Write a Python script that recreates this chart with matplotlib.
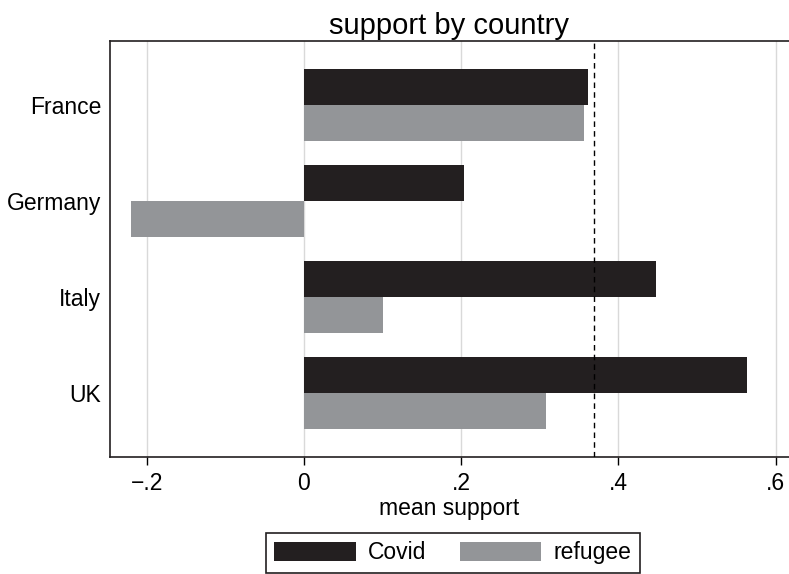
import matplotlib
matplotlib.use('Agg')
import matplotlib.pyplot as plt
import numpy as np

plt.rcParams['font.family'] = ['Liberation Sans', 'DejaVu Sans']

countries = ["France", "Germany", "Italy", "UK"]
covid = [0.361, 0.204, 0.448, 0.564]
refugee = [0.356, -0.220, 0.101, 0.308]
overall_mean = 0.369
xticks = [-0.2, 0, 0.2, 0.4, 0.6]
xticklabels = ["\u2212.2", "0", ".2", ".4", ".6"]

fig = plt.figure(figsize=(7.89, 5.74), dpi=100)
ax = fig.add_axes([0.139, 0.204, 0.861, 0.7246])

y = np.arange(len(countries))
h = 0.375
ax.barh(y - h/2, covid, height=h, color="#231f20", label="Covid", zorder=3)
ax.barh(y + h/2, refugee, height=h, color="#939598", label="refugee", zorder=3)
ax.axvline(overall_mean, color="black", linestyle=(0, (4, 3)), linewidth=1, zorder=4)

ax.set_xlim(-0.247, 0.617)
ax.set_ylim(len(countries) - 1 + 0.667, -0.667)
ax.set_xticks(xticks)
ax.set_xticklabels(xticklabels)
ax.set_yticks(y)
ax.set_yticklabels(countries)
ax.grid(axis="x", color="#d9d9d9", linewidth=1, zorder=0)
ax.tick_params(axis="x", labelsize=16.5, length=6, width=1, direction="out", pad=5)
ax.tick_params(axis="y", labelsize=16.5, length=0, pad=6)
for s in ax.spines.values():
    s.set_linewidth(1.2)
    s.set_color("#231f20")
ax.spines["right"].set_visible(False)
ax.set_xlabel("mean support", fontsize=16.5, labelpad=1)
ax.set_title("support by country", fontsize=21, pad=5)

leg = fig.legend(loc="center", bbox_to_anchor=(0.574, 0.0366), ncol=2, fontsize=16.5,
                 frameon=True, fancybox=False, edgecolor="#231f20", framealpha=1,
                 handlelength=3.55, handleheight=0.9, columnspacing=1.45,
                 handletextpad=0.55, borderpad=0.35, borderaxespad=0)
leg.get_frame().set_linewidth(1.2)

fig.savefig("out.png", dpi=100)
